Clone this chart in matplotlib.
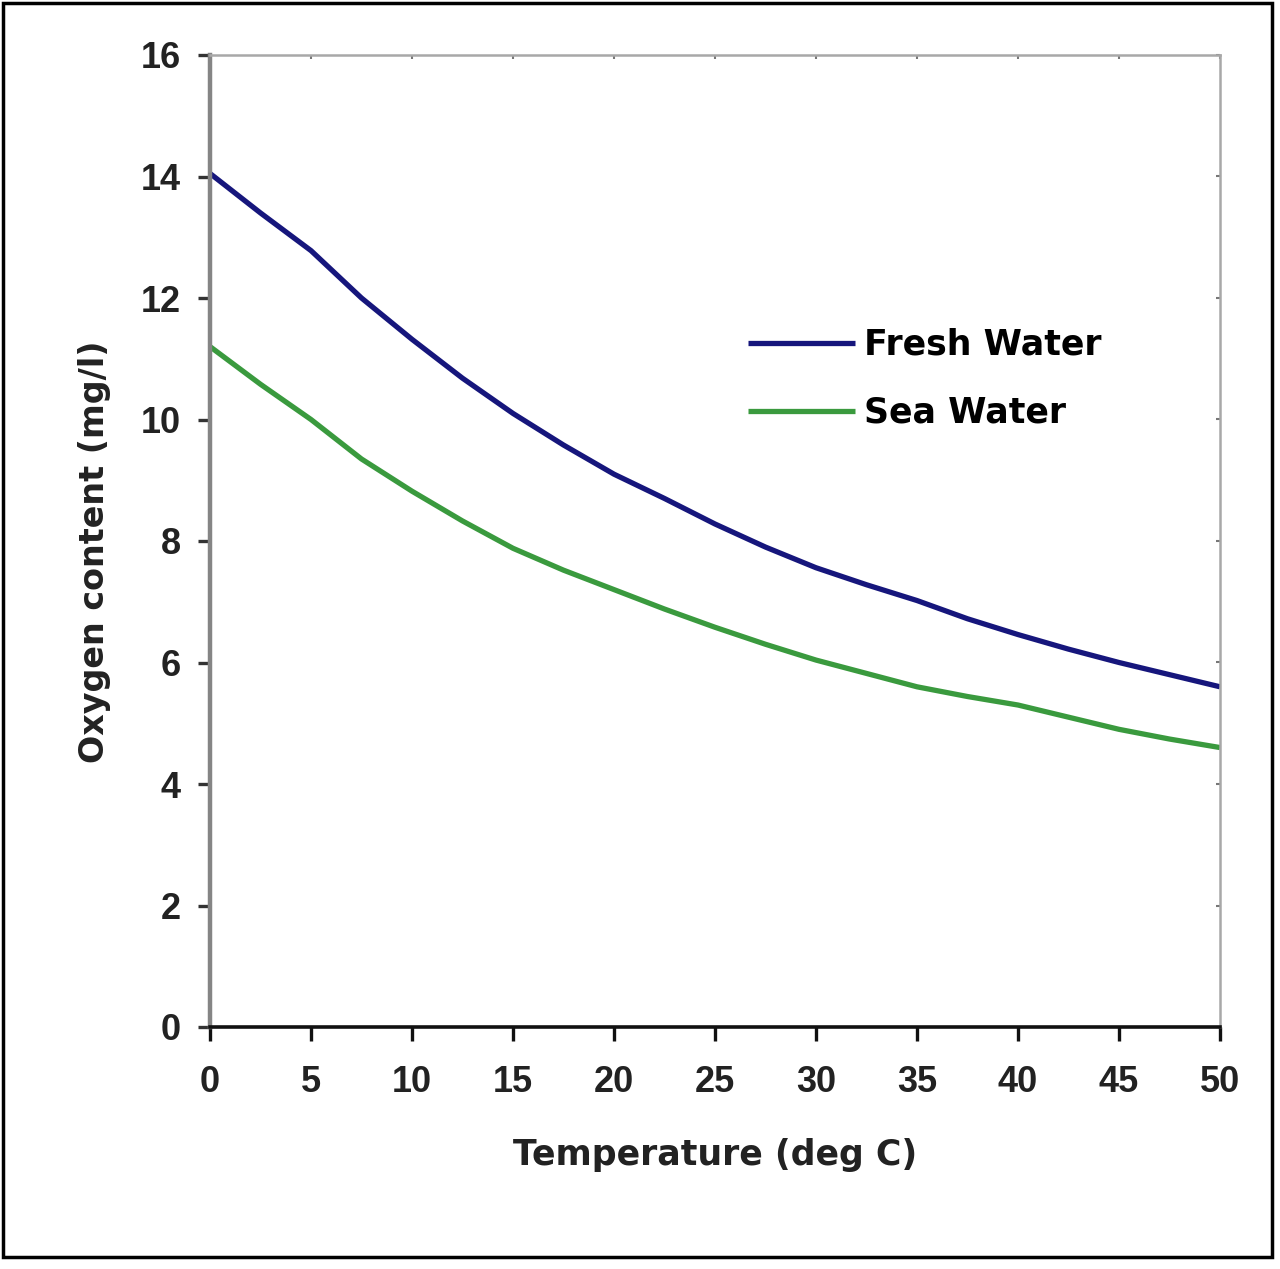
import matplotlib
matplotlib.use("Agg")
import matplotlib.pyplot as plt
from matplotlib.patches import Rectangle

plt.rcParams['font.family'] = ['Liberation Sans', 'DejaVu Sans']

# temperature (deg C) and dissolved oxygen (mg/l)
temperature = [0, 2.5, 5, 7.5, 10, 12.5, 15, 17.5, 20, 22.5, 25, 27.5, 30,
               32.5, 35, 37.5, 40, 42.5, 45, 47.5, 50]
fresh_water = [14.05, 13.4, 12.78, 12.0, 11.32, 10.68, 10.1, 9.58, 9.1, 8.7, 8.28, 7.9, 7.56,
               7.28, 7.02, 6.72, 6.46, 6.22, 6.0, 5.8, 5.6]
sea_water = [11.2, 10.58, 10.0, 9.35, 8.82, 8.33, 7.88, 7.52, 7.2, 6.88, 6.58, 6.3, 6.04,
             5.82, 5.6, 5.44, 5.3, 5.1, 4.9, 4.74, 4.6]

x_ticks = [0, 5, 10, 15, 20, 25, 30, 35, 40, 45, 50]
y_ticks = [0, 2, 4, 6, 8, 10, 12, 14, 16]

fig = plt.figure(figsize=(12.8, 12.69), dpi=100)
ax = fig.add_axes([210 / 1280, 1 - 1027 / 1269, 1010 / 1280, 972 / 1269])

ax.plot(temperature, fresh_water, color="#16167c", lw=3.8, label="Fresh Water",
        solid_capstyle="butt")
ax.plot(temperature, sea_water, color="#3a9a3e", lw=3.8, label="Sea Water",
        solid_capstyle="butt")

ax.set_xlim(0, 50)
ax.set_ylim(0, 16)
ax.set_xticks(x_ticks)
ax.set_yticks(y_ticks)

for side in ["top", "right"]:
    ax.spines[side].set_color("#a8a8a8")
    ax.spines[side].set_linewidth(1.8)
ax.spines["left"].set_color("#858585")
ax.spines["left"].set_linewidth(3.2)
ax.spines["bottom"].set_color("#111111")
ax.spines["bottom"].set_linewidth(2.6)

ax.tick_params(axis="x", direction="out", length=10, width=2.4, color="#111111",
               labelsize=26, pad=17)
ax.tick_params(axis="y", direction="out", length=9, width=2.4, color="#333333",
               labelsize=26, pad=12)
for lab in ax.get_xticklabels() + ax.get_yticklabels():
    lab.set_fontweight("bold")
    lab.set_color("#222222")

# small inward ticks on the top and right frame
top = ax.secondary_xaxis("top")
top.set_xticks(x_ticks)
top.tick_params(direction="in", length=3, width=1.5, color="#777777", labeltop=False)
top.spines["top"].set_visible(False)
right = ax.secondary_yaxis("right")
right.set_yticks(y_ticks)
right.tick_params(direction="in", length=3, width=1.5, color="#777777", labelright=False)
right.spines["right"].set_visible(False)

ax.set_xlabel("Temperature (deg C)", fontsize=25, fontweight="bold", color="#222222",
              family=["DejaVu Sans"], labelpad=28)
ax.set_ylabel("Oxygen content (mg/l)", fontsize=24, fontweight="bold", color="#222222",
              family=["DejaVu Sans"])
ax.yaxis.set_label_coords(-0.098, 0.489)

ax.legend(loc="upper left", bbox_to_anchor=(0.515, 0.737), frameon=False,
          borderpad=0, handlelength=3.1, handletextpad=0.25, labelspacing=0.97,
          prop={"weight": "bold", "size": 25, "family": ["DejaVu Sans"]})

fig.patches.append(Rectangle((3 / 1280, 1 - 1257 / 1269), 1269 / 1280, 1254 / 1269,
                             transform=fig.transFigure, fill=False, ec="black", lw=2.5))

fig.savefig("out.png", dpi=100, facecolor="white")
